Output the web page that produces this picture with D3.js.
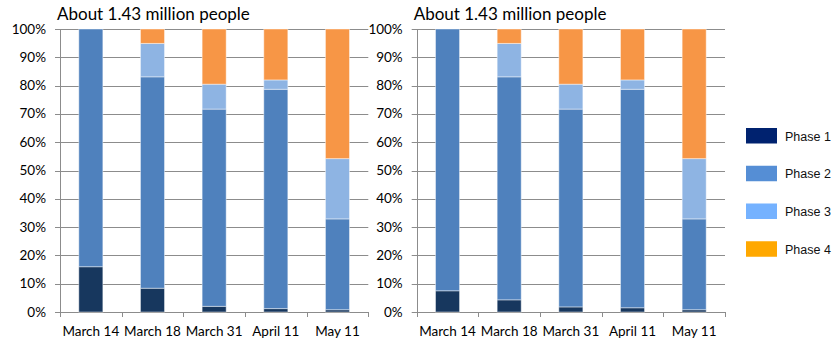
<!DOCTYPE html>
<html>
<head>
<meta charset="utf-8">
<script src="https://cdn.jsdelivr.net/npm/d3@7"></script>
<style>
  html, body { margin: 0; padding: 0; background: #fff; }
  svg { display: block; }
</style>
</head>
<body>
<svg id="chart" width="835" height="341"></svg>
<script>
// Survey dates shown on the x axis
const dates = ["March 14", "March 18", "March 31", "April 11", "May 11"];
const phases = ["Phase 1", "Phase 2", "Phase 3", "Phase 4"];
const yTicks = [0, 10, 20, 30, 40, 50, 60, 70, 80, 90, 100];
const chartTitle = "About 1.43 million people";

// Share of people in each phase (%), left panel
const leftPhase1 = [16.0, 8.4, 2.0, 1.2, 0.8];
const leftPhase2 = [84.0, 74.7, 69.7, 77.5, 32.1];
const leftPhase3 = [0.0, 11.8, 8.8, 3.3, 21.3];
const leftPhase4 = [0.0, 5.1, 19.5, 18.0, 45.8];

// Share of people in each phase (%), right panel
const rightPhase1 = [7.5, 4.3, 1.8, 1.5, 0.8];
const rightPhase2 = [92.5, 78.8, 69.9, 77.2, 32.1];
const rightPhase3 = [0.0, 11.8, 8.8, 3.3, 21.3];
const rightPhase4 = [0.0, 5.1, 19.5, 18.0, 45.8];

const barColors = ["#17375E", "#4F81BD", "#8EB4E3", "#F79646"];
const legendColors = ["#00226F", "#558ED5", "#75B2FF", "#FFA800"];

const svg = d3.select("#chart");
const plotTop = 29, plotBottom = 312;

function buildRows(p1, p2, p3, p4) {
  return dates.map((d, i) => ({
    date: d, "Phase 1": p1[i], "Phase 2": p2[i], "Phase 3": p3[i], "Phase 4": p4[i]
  }));
}

function drawPanel(left, right, rows) {
  const g = svg.append("g");
  const x = d3.scaleBand().domain(dates).range([left, right]).paddingInner(0.61).paddingOuter(0.305);
  const xTickScale = d3.scaleLinear().domain([0, dates.length]).range([left, right]);
  const y = d3.scaleLinear().domain([0, 100]).range([plotBottom, plotTop]);

  // horizontal gridlines with outward ticks
  g.append("g").selectAll("line").data(yTicks).join("line")
    .attr("x1", left - 5).attr("x2", right)
    .attr("y1", d => Math.round(y(d)) + 0.5).attr("y2", d => Math.round(y(d)) + 0.5)
    .attr("stroke", "#8c8c8c").attr("stroke-width", 1);

  // y axis line
  g.append("line")
    .attr("x1", Math.round(left) + 0.5).attr("x2", Math.round(left) + 0.5)
    .attr("y1", plotTop).attr("y2", plotBottom)
    .attr("stroke", "#8c8c8c");

  // category tick marks below the baseline
  g.append("g").selectAll("line").data(d3.range(dates.length + 1)).join("line")
    .attr("x1", d => Math.round(xTickScale(d)) + 0.5).attr("x2", d => Math.round(xTickScale(d)) + 0.5)
    .attr("y1", plotBottom).attr("y2", plotBottom + 5)
    .attr("stroke", "#8c8c8c");

  // y tick labels
  g.append("g").selectAll("text").data(yTicks).join("text")
    .attr("x", left - 14).attr("y", d => y(d) + 4.5)
    .attr("text-anchor", "end")
    .attr("font-family", "Lato, 'Open Sans', sans-serif")
    .attr("font-size", 13.5).attr("fill", "#000")
    .text(d => d + "%");

  // x tick labels
  g.append("g").selectAll("text").data(dates).join("text")
    .attr("x", d => x(d) + x.bandwidth() / 2).attr("y", 336)
    .attr("text-anchor", "middle")
    .attr("font-family", "Lato, 'Open Sans', sans-serif")
    .attr("font-size", 13.5).attr("fill", "#000")
    .text(d => d);

  // stacked bars
  const series = d3.stack().keys(phases)(rows);
  g.append("g").selectAll("g").data(series).join("g")
    .attr("fill", (s, i) => barColors[i])
    .selectAll("rect").data(s => s.map(v => ({ v, date: v.data.date }))).join("rect")
    .attr("x", d => x(d.date))
    .attr("width", x.bandwidth())
    .attr("y", d => y(d.v[1]))
    .attr("height", d => Math.max(0, y(d.v[0]) - y(d.v[1])))
    .attr("stroke", "#ffffff").attr("stroke-opacity", 0.45).attr("stroke-width", 1);

  // title
  g.append("text")
    .attr("x", left - 3).attr("y", 20)
    .attr("font-family", "Lato, 'Open Sans', sans-serif")
    .attr("font-size", 17).attr("fill", "#000")
    .text(chartTitle);
}

drawPanel(60, 368.3, buildRows(leftPhase1, leftPhase2, leftPhase3, leftPhase4));
drawPanel(416.7, 725, buildRows(rightPhase1, rightPhase2, rightPhase3, rightPhase4));

// legend
const legend = svg.append("g");
const ly = d3.scaleBand().domain(phases).range([128, 279]);
legend.selectAll("rect").data(phases).join("rect")
  .attr("x", 746).attr("y", d => ly(d))
  .attr("width", 31).attr("height", 15.5)
  .attr("fill", (d, i) => legendColors[i]);
legend.selectAll("text").data(phases).join("text")
  .attr("x", 785).attr("y", d => ly(d) + 12.5)
  .attr("font-family", "'Liberation Sans', Arial, sans-serif")
  .attr("font-size", 12.5).attr("fill", "#111")
  .text(d => d);
</script>
</body>
</html>
